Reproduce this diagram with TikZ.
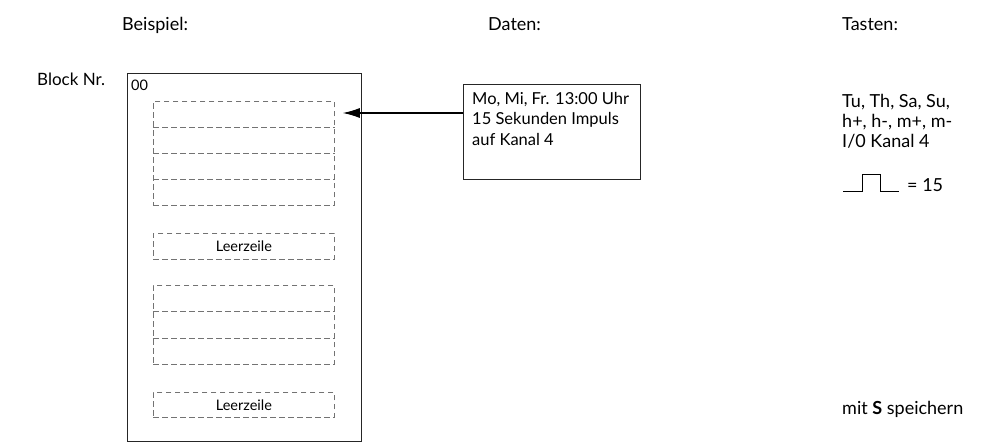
\documentclass[tikz,border=0pt]{standalone}
\usepackage{fontspec}
\setmainfont{Lato}
\usetikzlibrary{arrows.meta,calc}
\begin{document}
\begin{tikzpicture}[x=1pt,y=-1pt,
  lbl/.style={anchor=base west, inner sep=0pt, font=\fontsize{18}{21}\selectfont},
  small/.style={font=\fontsize{14.5}{16}\selectfont},
  slot/.style={draw=black!55, dash pattern=on 5.5pt off 3.5pt, line width=0.8pt},
  slotbox/.style={slot, anchor=north west, minimum width=181pt, inner sep=0pt},
  frame/.style={draw=black!85, line width=1.2pt, inner sep=0pt}]
\useasboundingbox (0,0) rectangle (993,444);
% headers
\node[lbl] (hb) at (122,31) {Beispiel:};
\node[lbl] (hd) at (488,31) {Daten:};
\node[lbl] (ht) at (842,31) {Tasten:};
\node[lbl, font=\fontsize{17}{20}\selectfont] (blk) at (37,85) {Block Nr.};
% block frame
\node[frame, anchor=north west, minimum width=234pt, minimum height=368pt] (blockbox) at (127,73) {};
\node[lbl, small] (nr) at (131,91) {00};
% group 1 (4 rows)
\node[slotbox, minimum height=104pt] (g1) at (153,101) {};
\foreach \f in {0.25,0.5,0.75}
  \draw[slot] ($(g1.north west)!\f!(g1.south west)$) -- ($(g1.north east)!\f!(g1.south east)$);
\node[slotbox, minimum height=26pt, small] (l1) at (153,233) {Leerzeile};
% group 2 (3 rows)
\node[slotbox, minimum height=79pt] (g2) at (153,285) {};
\foreach \f in {0.3333,0.6667}
  \draw[slot] ($(g2.north west)!\f!(g2.south west)$) -- ($(g2.north east)!\f!(g2.south east)$);
\node[slotbox, minimum height=25pt, small] (l2) at (153,392) {Leerzeile};
% data box
\node[frame, anchor=north west, minimum width=177pt, minimum height=95pt] (daten) at (463,84) {};
\node[anchor=north west, inner sep=0pt, align=left, font=\fontsize{16.5}{20.5}\selectfont] (dtext) at ($(daten.north west)+(9,8)$)
  {Mo, Mi, Fr. 13:00 Uhr\\15 Sekunden Impuls\\auf Kanal 4};
\coordinate (tip) at ($(g1.north east)+(8,12)$);
\draw[line width=1.1pt, -{Latex[length=17pt,width=10pt]}] (daten.west |- tip) -- (tip);
% keys
\node[lbl] (k1) at (842,107) {Tu, Th, Sa, Su,};
\node[lbl] (k2) at (842,127) {h+, h-, m+, m-};
\node[lbl] (k3) at (842,147) {I/0 Kanal 4};
\coordinate (p0) at (843,191);
\draw[line width=0.8pt] (p0) -- ++(19,0) -- ++(0,-17) -- ++(18,0) -- ++(0,17) -- ++(19,0) coordinate (p1);
\node[lbl] (k4) at ($(p1)+(8,0)$) {= 15};
\node[lbl] (save) at (842,414) {mit \textbf{S} speichern};
\end{tikzpicture}
\end{document}
